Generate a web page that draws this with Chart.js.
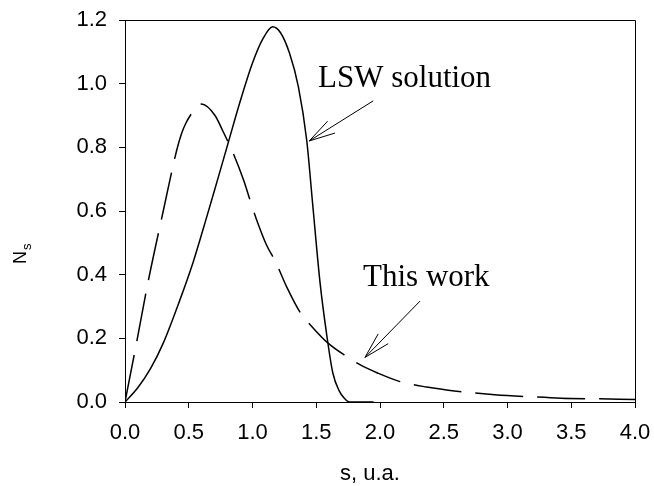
<!DOCTYPE html>
<html>
<head>
<meta charset="utf-8">
<script src="https://cdn.jsdelivr.net/npm/chart.js@4.4.1/dist/chart.umd.min.js"></script>
<style>
  html, body { margin: 0; padding: 0; background: #fff; }
  canvas { display: block; }
</style>
</head>
<body>
<canvas id="distChart" width="654" height="486"></canvas>
<script>
// Curva LSW (linha cheia)
const lswS = [0, 0.1, 0.2, 0.3, 0.43, 0.535, 0.64, 0.72, 0.81, 0.9, 1.0, 1.08, 1.158, 1.22, 1.29, 1.36, 1.425, 1.47, 1.53, 1.58, 1.63, 1.68, 1.72, 1.76, 1.95];
const lswN = [0, 0.045, 0.105, 0.185, 0.32, 0.44, 0.58, 0.69, 0.815, 0.94, 1.065, 1.14, 1.179, 1.16, 1.096, 0.99, 0.823, 0.63, 0.374, 0.217, 0.091, 0.035, 0.012, 0, 0];

// Curva deste trabalho (tracejada)
const workS = [0, 0.09, 0.18, 0.30, 0.405, 0.445, 0.48, 0.52, 0.55, 0.60, 0.706, 0.77, 0.85, 0.93, 0.98, 1.03, 1.11, 1.18, 1.27, 1.37, 1.477, 1.595, 1.73, 1.856, 1.987, 2.157, 2.366, 2.6, 2.9, 3.2, 3.42, 3.7, 4.0];
const workN = [0, 0.185, 0.375, 0.60, 0.79, 0.845, 0.878, 0.905, 0.922, 0.936, 0.90, 0.849, 0.78, 0.697, 0.635, 0.575, 0.493, 0.441, 0.36, 0.284, 0.232, 0.184, 0.145, 0.114, 0.090, 0.064, 0.047, 0.034, 0.023, 0.016, 0.012, 0.010, 0.008];

// Eixos
const xMin = 0, xMax = 4, xStep = 0.5;
const yMin = 0, yMax = 1.2, yStep = 0.2;

// Anotações (em coordenadas dos dados)
const notes = [
    { text: 'LSW solution', textS: 1.514, textN: 0.99, fromS: 1.947, fromN: 0.946, toS: 1.445, toN: 0.82 },
    { text: 'This work', textS: 1.867, textN: 0.364, fromS: 2.314, fromN: 0.317, toS: 1.882, toN: 0.14 }
];

const toPoints = (xs, ys) => xs.map((x, i) => ({ x: x, y: ys[i] }));

const sansFont = "'Liberation Sans', Arial, sans-serif";
const serifFont = "'Liberation Serif', 'Times New Roman', serif";

const framePlugin = {
    id: 'frame',
    afterDatasetsDraw(chart) {
        const ctx = chart.ctx;
        const a = chart.chartArea;
        const xs = chart.scales.x, ys = chart.scales.y;
        ctx.save();
        ctx.strokeStyle = '#000';
        ctx.lineWidth = 1;
        ctx.beginPath();
        ctx.moveTo(a.left, a.top + 0.5);
        ctx.lineTo(a.right + 0.5, a.top + 0.5);
        ctx.lineTo(a.right + 0.5, a.bottom);
        ctx.stroke();

        // setas e textos
        notes.forEach(n => {
            const x1 = xs.getPixelForValue(n.fromS), y1 = ys.getPixelForValue(n.fromN);
            const x2 = xs.getPixelForValue(n.toS), y2 = ys.getPixelForValue(n.toN);
            const ang = Math.atan2(y1 - y2, x1 - x2);
            const len = 27, spread = 15 * Math.PI / 180;
            ctx.beginPath();
            ctx.moveTo(x1, y1);
            ctx.lineTo(x2, y2);
            ctx.moveTo(x2 + len * Math.cos(ang - spread), y2 + len * Math.sin(ang - spread));
            ctx.lineTo(x2, y2);
            ctx.lineTo(x2 + len * Math.cos(ang + spread), y2 + len * Math.sin(ang + spread));
            ctx.stroke();
            ctx.fillStyle = '#000';
            ctx.font = '31px ' + serifFont;
            ctx.textAlign = 'left';
            ctx.textBaseline = 'alphabetic';
            ctx.fillText(n.text, xs.getPixelForValue(n.textS), ys.getPixelForValue(n.textN));
        });

        // títulos dos eixos
        ctx.fillStyle = '#000';
        ctx.font = '22px ' + sansFont;
        ctx.textAlign = 'center';
        ctx.textBaseline = 'alphabetic';
        ctx.fillText('s, u.a.', 370, 480);

        ctx.translate(26, 256);
        ctx.rotate(-Math.PI / 2);
        ctx.textAlign = 'left';
        ctx.font = '18px ' + sansFont;
        ctx.fillText('N', -8, 0);
        ctx.font = '13px ' + sansFont;
        ctx.fillText('s', 6, 5);
        ctx.restore();
    }
};

const ctx = document.getElementById('distChart').getContext('2d');
const distChart = new Chart(ctx, {
    type: 'line',
    data: {
        datasets: [
            {
                label: 'LSW solution',
                data: toPoints(lswS, lswN),
                borderColor: '#000',
                borderWidth: 1.5,
                pointRadius: 0,
                fill: false,
                cubicInterpolationMode: 'monotone'
            },
            {
                label: 'This work',
                data: toPoints(workS, workN),
                borderColor: '#000',
                borderWidth: 1.5,
                borderDash: [48, 14],
                pointRadius: 0,
                fill: false,
                cubicInterpolationMode: 'monotone'
            }
        ]
    },
    options: {
        responsive: false,
        animation: false,
        layout: { padding: { top: 20, right: 19, left: 0, bottom: 0 } },
        plugins: {
            legend: { display: false },
            tooltip: { enabled: false }
        },
        scales: {
            x: {
                type: 'linear',
                min: xMin,
                max: xMax,
                afterFit(scale) {
                    scale.height = 84;
                    scale.paddingLeft = 0;
                    scale.paddingRight = 0;
                },
                grid: { drawOnChartArea: false, drawTicks: true, tickLength: 6, color: '#000' },
                border: { display: true, color: '#000', width: 1 },
                ticks: {
                    stepSize: xStep,
                    color: '#000',
                    padding: 12,
                    maxRotation: 0,
                    font: { family: sansFont, size: 22 },
                    callback: v => v.toFixed(1)
                }
            },
            y: {
                min: yMin,
                max: yMax,
                afterFit(scale) {
                    scale.width = 125;
                    scale.paddingTop = 0;
                    scale.paddingBottom = 0;
                },
                grid: { drawOnChartArea: false, drawTicks: true, tickLength: 6, color: '#000' },
                border: { display: true, color: '#000', width: 1 },
                ticks: {
                    stepSize: yStep,
                    color: '#000',
                    padding: 12,
                    font: { family: sansFont, size: 22 },
                    callback: v => v.toFixed(1)
                }
            }
        }
    },
    plugins: [framePlugin]
});
</script>
</body>
</html>
